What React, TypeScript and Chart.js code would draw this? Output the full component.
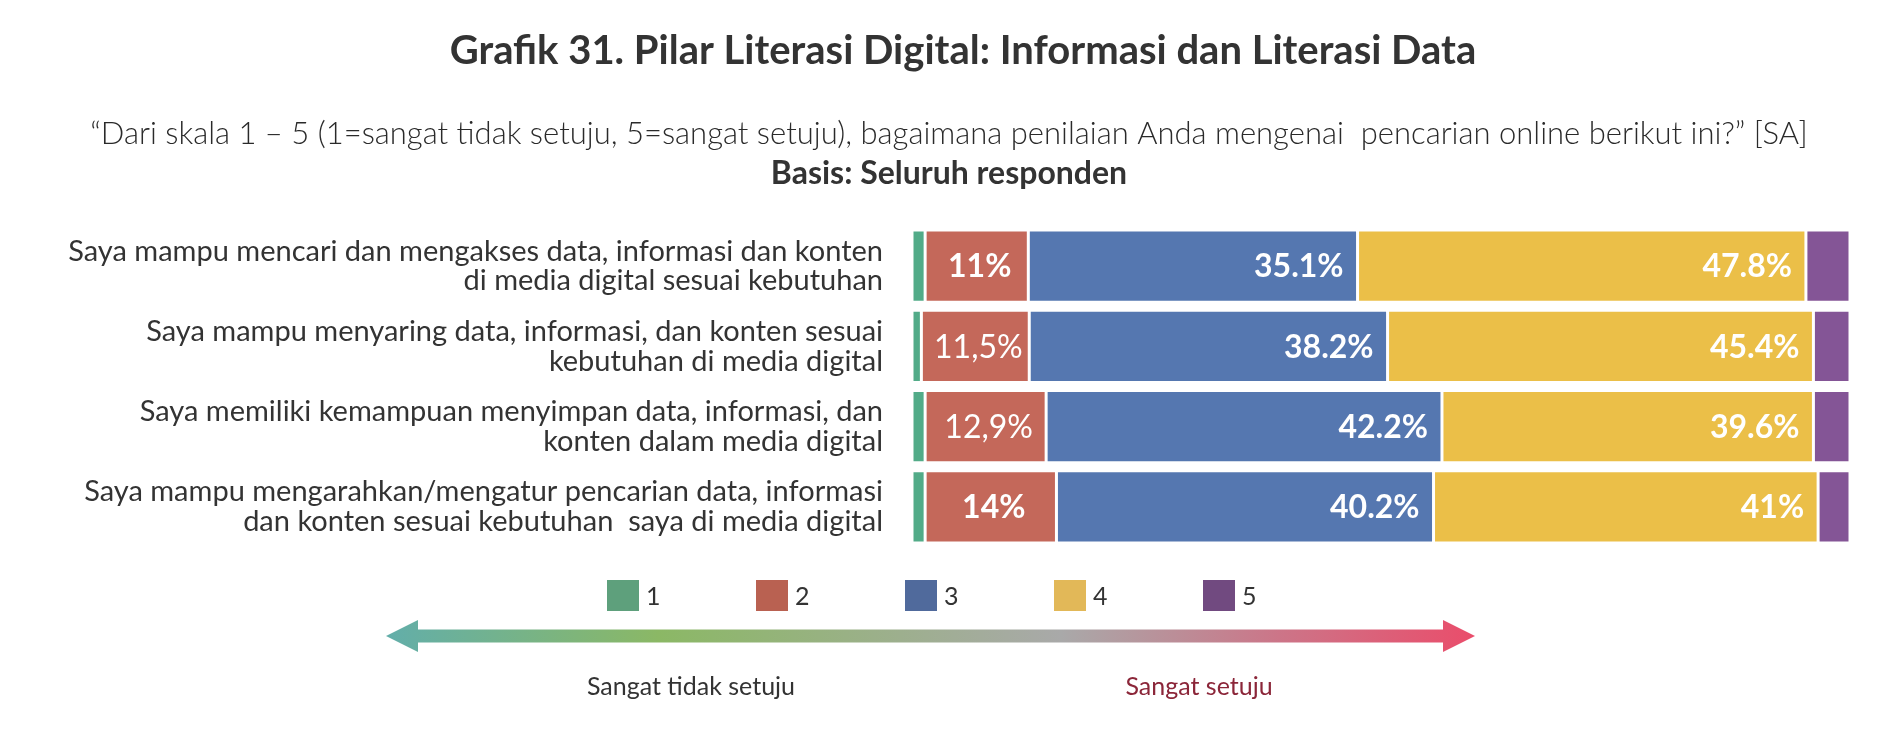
import React, { useEffect, useRef } from "react";
import { Chart, registerables } from "chart.js";

Chart.register(...registerables);

const titleText = "Grafik 31. Pilar Literasi Digital: Informasi dan Literasi Data";
const subtitleText =
  "\u201CDari skala 1 \u2013 5 (1=sangat tidak setuju, 5=sangat setuju), bagaimana penilaian Anda mengenai  pencarian online berikut ini?\u201D [SA]";
const basisText = "Basis: Seluruh responden";

const categories: string[][] = [
  ["Saya mampu mencari dan mengakses data, informasi dan konten", "di media digital sesuai kebutuhan"],
  ["Saya mampu menyaring data, informasi, dan konten sesuai", "kebutuhan di media digital"],
  ["Saya memiliki kemampuan menyimpan data, informasi, dan", "konten dalam media digital"],
  ["Saya mampu mengarahkan/mengatur pencarian data, informasi", "dan konten sesuai kebutuhan  saya di media digital"],
];

const seriesNames = ["1", "2", "3", "4", "5"];
const series1 = [1.4, 1.0, 1.4, 1.4];
const series2 = [11, 11.5, 12.9, 14];
const series3 = [35.1, 38.2, 42.2, 40.2];
const series4 = [47.8, 45.4, 39.6, 41];
const series5 = [4.7, 3.9, 3.9, 3.4];

const labels2 = ["11%", "11,5%", "12,9%", "14%"];
const labels3 = ["35.1%", "38.2%", "42.2%", "40.2%"];
const labels4 = ["47.8%", "45.4%", "39.6%", "41%"];
const regularWeightLabels = ["11,5%", "12,9%"];

const scaleLeftLabel = "Sangat tidak setuju";
const scaleRightLabel = "Sangat setuju";

const barColors = ["#52ab88", "#c4685a", "#5577b0", "#ebbf48", "#845596"];
const legendColors = ["#5ea07c", "#b96151", "#506a9c", "#e2b858", "#714a80"];

const FONT = "Lato, 'Noto Sans', sans-serif";

const decorPlugin = {
  id: "decor",
  afterDatasetsDraw(chart: any) {
    const ctx: CanvasRenderingContext2D = chart.ctx;
    ctx.save();
    const labelSets: { ds: number; labels: string[]; mode: "center" | "end" }[] = [
      { ds: 1, labels: labels2, mode: "center" },
      { ds: 2, labels: labels3, mode: "end" },
      { ds: 3, labels: labels4, mode: "end" },
    ];
    ctx.fillStyle = "#ffffff";
    ctx.textBaseline = "middle";
    labelSets.forEach((set) => {
      const meta = chart.getDatasetMeta(set.ds);
      meta.data.forEach((bar: any, i: number) => {
        const txt = set.labels[i];
        const weight = regularWeightLabels.includes(txt) ? "400" : "700";
        ctx.font = `${weight} 32px ${FONT}`;
        if (set.mode === "center") {
          ctx.textAlign = "center";
          ctx.fillText(txt, (bar.x + bar.base) / 2 + 3, bar.y + 1);
        } else {
          ctx.textAlign = "right";
          ctx.fillText(txt, bar.x - 14, bar.y + 1);
        }
      });
    });
    ctx.restore();
  },
  afterDraw(chart: any) {
    const ctx: CanvasRenderingContext2D = chart.ctx;
    ctx.save();
    ctx.textBaseline = "middle";
    ctx.fillStyle = "#333333";
    ctx.textAlign = "center";
    ctx.font = `700 40px ${FONT}`;
    ctx.fillText(titleText, 963, 51);
    ctx.fillStyle = "#2a2a2a";
    ctx.font = `300 31px ${FONT}`;
    ctx.fillText(subtitleText, 949, 134);
    ctx.fillStyle = "#333333";
    ctx.font = `700 32px ${FONT}`;
    ctx.fillText(basisText, 949, 174);

    // legend
    ctx.textAlign = "left";
    ctx.font = `400 25px ${FONT}`;
    seriesNames.forEach((name, i) => {
      const x = 607 + i * 149;
      ctx.fillStyle = legendColors[i];
      ctx.fillRect(x, 580, 32, 31);
      ctx.fillStyle = "#333333";
      ctx.fillText(name, x + 39, 597);
    });

    // gradient arrow
    const x0 = 386, x1 = 1475, yc = 636;
    const head = 32, shaft = 13, headH = 32;
    const g = ctx.createLinearGradient(x0, 0, x1, 0);
    g.addColorStop(0, "#62aeaa");
    g.addColorStop(0.25, "#8bb865");
    g.addColorStop(0.62, "#a9a9a9");
    g.addColorStop(0.82, "#cc7588");
    g.addColorStop(1, "#ea4d6b");
    ctx.fillStyle = g;
    ctx.beginPath();
    ctx.moveTo(x0, yc);
    ctx.lineTo(x0 + head, yc - headH / 2);
    ctx.lineTo(x0 + head, yc - shaft / 2);
    ctx.lineTo(x1 - head, yc - shaft / 2);
    ctx.lineTo(x1 - head, yc - headH / 2);
    ctx.lineTo(x1, yc);
    ctx.lineTo(x1 - head, yc + headH / 2);
    ctx.lineTo(x1 - head, yc + shaft / 2);
    ctx.lineTo(x0 + head, yc + shaft / 2);
    ctx.lineTo(x0 + head, yc + headH / 2);
    ctx.closePath();
    ctx.fill();

    ctx.textAlign = "center";
    ctx.font = `400 25px ${FONT}`;
    ctx.fillStyle = "#333333";
    ctx.fillText(scaleLeftLabel, 691, 687);
    ctx.fillStyle = "#8b2639";
    ctx.fillText(scaleRightLabel, 1199, 687);
    ctx.restore();
  },
};

export default function App() {
  const ref = useRef<HTMLCanvasElement | null>(null);
  useEffect(() => {
    if (!ref.current) return;
    const values = [series1, series2, series3, series4, series5];
    const chart = new Chart(ref.current, {
      type: "bar",
      data: {
        labels: categories,
        datasets: values.map((v, i) => ({
          label: seriesNames[i],
          data: v,
          backgroundColor: barColors[i],
          borderColor: "#ffffff",
          borderWidth: 1.5,
          borderSkipped: false,
          barPercentage: 0.9,
          categoryPercentage: 1,
        })),
      },
      options: {
        indexAxis: "y",
        responsive: false,
        animation: false,
        devicePixelRatio: 1,
        layout: { padding: { left: 0, right: 52, top: 226, bottom: 201 } },
        plugins: {
          legend: { display: false },
          title: { display: false },
          tooltip: { enabled: false },
        },
        scales: {
          x: { stacked: true, min: 0, max: 100, display: false },
          y: {
            stacked: true,
            grid: { display: false },
            border: { display: false },
            afterFit: (scale: any) => {
              scale.width = 912;
            },
            ticks: {
              color: "#333333",
              padding: 21,
              font: { family: FONT, size: 29, lineHeight: 1.02 },
            },
          },
        },
      },
      plugins: [decorPlugin],
    });
    return () => chart.destroy();
  }, []);
  return (
    <div style={{ position: "absolute", left: 0, top: 0, width: 1902, height: 748, background: "#ffffff" }}>
      <canvas ref={ref} width={1902} height={748} style={{ display: "block" }} />
    </div>
  );
}
